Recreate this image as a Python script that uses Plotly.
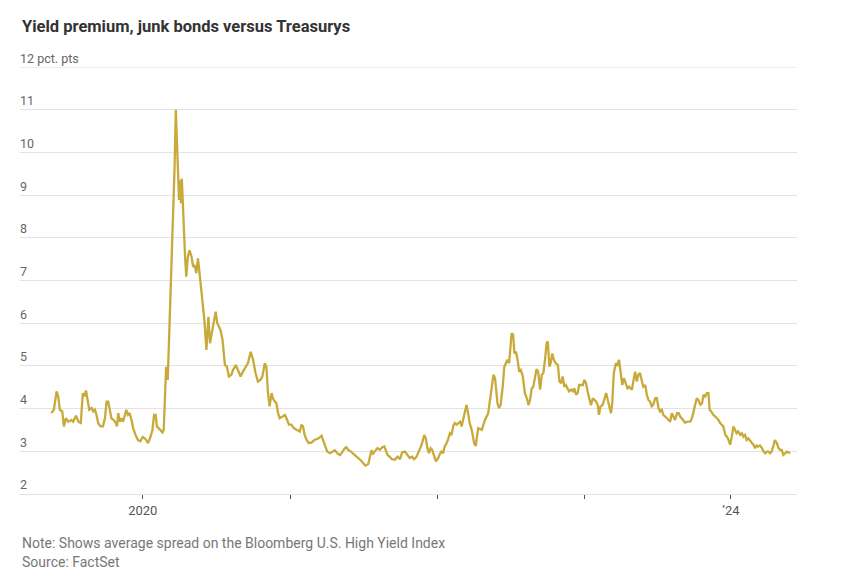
import plotly.graph_objects as go

dates = [
"2019-05-19","2019-05-25","2019-06-01","2019-06-05","2019-06-09","2019-06-15","2019-06-19","2019-06-24","2019-06-30",
"2019-07-08","2019-07-12","2019-07-19","2019-07-25","2019-07-31","2019-08-05","2019-08-09","2019-08-13","2019-08-17",
"2019-08-21","2019-08-27","2019-08-31","2019-09-04","2019-09-08","2019-09-12","2019-09-18","2019-09-24","2019-09-29",
"2019-10-03","2019-10-07","2019-10-11","2019-10-15","2019-10-21","2019-10-26","2019-10-29","2019-11-01","2019-11-05",
"2019-11-09","2019-11-13","2019-11-17","2019-11-21","2019-11-25","2019-11-29","2019-12-04","2019-12-08","2019-12-14",
"2019-12-20","2019-12-26","2020-01-01","2020-01-08","2020-01-14","2020-01-20","2020-01-25","2020-01-29","2020-02-02",
"2020-02-05","2020-02-09","2020-02-14","2020-02-19","2020-02-22",
"2020-02-24","2020-02-28","2020-03-03","2020-03-08","2020-03-10","2020-03-13","2020-03-16","2020-03-20","2020-03-23",
"2020-03-27","2020-03-31","2020-04-02","2020-04-05","2020-04-07","2020-04-10","2020-04-12","2020-04-15","2020-04-18",
"2020-04-22","2020-04-26","2020-05-01","2020-05-05","2020-05-09","2020-05-13","2020-05-17","2020-05-21","2020-05-25",
"2020-05-29","2020-06-02","2020-06-07","2020-06-09","2020-06-12","2020-06-16","2020-06-20","2020-06-25","2020-06-30",
"2020-07-04","2020-07-08","2020-07-12","2020-07-17","2020-07-20","2020-07-23","2020-07-28","2020-08-02","2020-08-08",
"2020-08-12","2020-08-19","2020-08-25","2020-08-31","2020-09-06","2020-09-13","2020-09-18","2020-09-25","2020-10-01",
"2020-10-07","2020-10-13","2020-10-19","2020-10-24","2020-10-30","2020-11-03","2020-11-07","2020-11-11","2020-11-16",
"2020-11-19","2020-11-24","2020-11-28","2020-12-02","2020-12-06","2020-12-13","2020-12-19","2020-12-23","2020-12-29",
"2021-01-04","2021-01-10","2021-01-17","2021-01-25",
"2021-01-29","2021-02-02","2021-02-06","2021-02-11","2021-02-16","2021-02-23","2021-03-02","2021-03-08","2021-03-13",
"2021-03-20","2021-03-24","2021-03-30","2021-04-03","2021-04-10","2021-04-16","2021-04-22","2021-04-29","2021-05-05",
"2021-05-10","2021-05-17","2021-05-21","2021-05-25","2021-06-01","2021-06-06","2021-06-12","2021-06-19","2021-06-26",
"2021-07-01","2021-07-07","2021-07-14","2021-07-18","2021-07-22","2021-07-26","2021-07-30","2021-08-06","2021-08-12",
"2021-08-18","2021-08-23","2021-08-26","2021-08-31","2021-09-06","2021-09-11","2021-09-18","2021-09-25","2021-10-01",
"2021-10-06","2021-10-13","2021-10-20","2021-10-25","2021-10-31","2021-11-05","2021-11-11","2021-11-17","2021-11-22",
"2021-11-26","2021-11-30","2021-12-04","2021-12-08","2021-12-12","2021-12-16","2021-12-20","2021-12-25","2021-12-29",
"2022-01-04","2022-01-08","2022-01-12","2022-01-16","2022-01-20","2022-01-25","2022-01-29","2022-02-02","2022-02-06",
"2022-02-10","2022-02-14","2022-02-19","2022-02-23","2022-02-27","2022-03-03","2022-03-07","2022-03-11","2022-03-15",
"2022-03-19","2022-03-23","2022-03-28","2022-04-03",
"2022-04-07","2022-04-13","2022-04-22","2022-04-30","2022-05-08","2022-05-12","2022-05-17","2022-05-21","2022-05-25",
"2022-05-27","2022-05-31","2022-06-04","2022-06-08","2022-06-13","2022-06-17","2022-06-21","2022-06-24","2022-06-29",
"2022-07-03","2022-07-05","2022-07-09","2022-07-12","2022-07-16","2022-07-20","2022-07-24","2022-07-28","2022-08-02",
"2022-08-07","2022-08-12","2022-08-16","2022-08-20","2022-08-24","2022-08-28","2022-09-01","2022-09-05","2022-09-09",
"2022-09-14","2022-09-18","2022-09-22","2022-09-26","2022-09-30","2022-10-03","2022-10-07","2022-10-10","2022-10-14",
"2022-10-18","2022-10-23","2022-10-28","2022-11-01","2022-11-05","2022-11-09","2022-11-13","2022-11-17","2022-11-21",
"2022-11-25","2022-11-30","2022-12-04","2022-12-08","2022-12-12","2022-12-16","2022-12-20","2022-12-25","2022-12-29",
"2023-01-02","2023-01-06","2023-01-10","2023-01-14","2023-01-18","2023-01-23","2023-01-27","2023-01-31","2023-02-04",
"2023-02-07","2023-02-11","2023-02-16","2023-02-20","2023-02-25","2023-03-01","2023-03-05","2023-03-09","2023-03-12",
"2023-03-16","2023-03-21","2023-03-25","2023-03-29","2023-04-02","2023-04-06","2023-04-10","2023-04-15","2023-04-19",
"2023-04-23","2023-04-30","2023-05-04","2023-05-08","2023-05-12","2023-05-16","2023-05-20","2023-05-24","2023-05-28",
"2023-06-02","2023-06-06","2023-06-10","2023-06-14","2023-06-18","2023-06-22","2023-06-27","2023-07-01","2023-07-05",
"2023-07-09","2023-07-13","2023-07-17","2023-07-26","2023-08-03","2023-08-07","2023-08-11","2023-08-15","2023-08-20",
"2023-08-24","2023-08-28","2023-09-03","2023-09-09","2023-09-15","2023-09-22","2023-09-26","2023-09-30","2023-10-04",
"2023-10-08","2023-10-12","2023-10-17","2023-10-21","2023-10-25","2023-10-29","2023-11-02","2023-11-06","2023-11-09",
"2023-11-13","2023-11-18","2023-11-23","2023-11-27","2023-12-01","2023-12-05","2023-12-09","2023-12-13","2023-12-18",
"2023-12-22","2023-12-26","2023-12-30",
"2024-01-03","2024-01-07","2024-01-11","2024-01-15","2024-01-19","2024-01-24","2024-01-28","2024-02-01","2024-02-05",
"2024-02-09","2024-02-13","2024-02-18","2024-02-22","2024-02-26","2024-03-01","2024-03-05","2024-03-09","2024-03-13",
"2024-03-18","2024-03-22","2024-03-26","2024-03-30","2024-04-03","2024-04-07","2024-04-11","2024-04-15","2024-04-19",
"2024-04-24","2024-04-28","2024-05-02","2024-05-06","2024-05-10","2024-05-15","2024-05-19","2024-05-23","2024-05-27",
]

spread = [
3.89,3.97,4.40,4.28,3.97,3.93,3.58,3.77,3.69,
3.73,3.69,3.83,3.69,3.66,4.36,4.28,4.42,4.20,
3.97,4.01,3.93,3.97,3.85,3.66,3.58,3.58,3.77,
4.16,4.16,3.97,3.77,3.73,3.66,3.58,3.89,3.69,
3.77,3.69,3.81,3.97,3.85,3.89,3.73,3.54,3.38,
3.26,3.23,3.33,3.28,3.19,3.33,3.50,3.85,3.85,
3.58,3.54,3.50,3.44,3.50,
4.20,4.98,4.67,6.15,6.39,7.25,8.26,9.67,11.00,
9.67,8.89,9.35,8.81,9.39,8.65,7.87,7.56,7.09,
7.56,7.71,7.56,7.32,7.36,7.17,7.52,7.17,6.78,
6.39,6.07,5.37,5.61,6.15,5.53,5.76,6.04,6.27,
6.00,5.92,5.84,5.61,5.22,5.02,4.98,4.75,4.79,
4.90,5.02,4.90,4.75,4.87,4.98,5.06,5.33,5.14,
4.83,4.63,4.67,4.75,5.06,4.98,4.36,4.05,4.36,
4.24,4.16,4.12,3.89,3.77,3.81,3.85,3.77,3.62,
3.62,3.54,3.50,3.46,
3.62,3.58,3.38,3.26,3.19,3.20,3.26,3.28,3.30,
3.36,3.26,3.11,2.99,2.95,2.99,3.02,2.94,2.91,
2.97,3.07,3.09,3.03,2.99,2.95,2.89,2.84,2.78,
2.72,2.66,2.70,2.84,3.02,2.94,2.99,3.07,3.03,
3.09,3.11,3.03,2.91,2.86,2.81,2.80,2.87,2.81,
2.97,2.99,2.89,2.84,2.87,2.81,2.87,2.99,3.11,
3.23,3.38,3.30,3.07,2.95,3.07,3.03,2.89,2.76,
2.84,2.94,2.99,2.95,3.11,3.19,3.30,3.42,3.38,
3.58,3.66,3.62,3.66,3.69,3.58,3.73,3.93,4.08,
3.89,3.66,3.50,3.19,
3.12,3.54,3.50,3.73,3.89,4.20,4.55,4.79,4.71,
4.51,4.12,4.01,4.09,4.51,4.98,5.06,5.14,5.06,
5.45,5.76,5.73,5.29,5.33,5.14,4.86,4.90,4.75,
4.36,4.24,4.08,4.20,4.47,4.51,4.75,4.92,4.87,
4.44,4.79,4.83,5.14,5.53,5.57,4.98,5.06,5.29,
5.14,5.06,5.02,4.63,4.59,4.75,4.51,4.55,4.47,
4.40,4.44,4.40,4.47,4.32,4.36,4.55,4.55,4.55,
4.67,4.59,4.40,4.20,4.08,4.24,4.20,4.16,4.08,
3.85,4.05,4.08,4.20,4.36,4.20,4.05,3.89,4.12,
4.83,5.06,5.02,5.14,4.83,4.55,4.71,4.59,4.47,
4.51,4.44,4.67,4.86,4.63,4.79,4.83,4.63,4.51,
4.55,4.32,4.20,4.16,4.05,4.09,4.24,4.24,4.01,
3.93,3.97,3.85,3.77,3.69,3.89,3.81,3.73,3.89,
3.89,3.81,3.73,3.67,3.69,3.69,3.77,3.93,4.05,
4.24,4.20,4.09,4.12,4.32,4.28,4.36,4.36,3.97,
3.93,3.85,3.81,3.77,3.73,3.66,3.62,3.58,3.38,
3.34,3.26,3.15,
3.34,3.58,3.50,3.42,3.46,3.38,3.42,3.34,3.38,
3.26,3.30,3.23,3.19,3.15,3.07,3.13,3.11,3.13,
3.07,2.99,2.95,2.99,2.99,2.95,2.99,3.11,3.26,
3.19,3.07,3.03,3.03,2.91,2.95,2.99,2.97,2.95,
]

y_tickvals = [2, 3, 4, 5, 6, 7, 8, 9, 10, 11, 12]
y_ticktext = ["2", "3", "4", "5", "6", "7", "8", "9", "10", "11", "12 pct. pts"]
x_tickvals = ["2020-01-01", "2021-01-01", "2022-01-01", "2023-01-01", "2024-01-01"]
x_ticktext = ["2020", "", "", "", "\u201924"]
y_top = 12

title_text = "Yield premium, junk bonds versus Treasurys"
note_text = "Note: Shows average spread on the Bloomberg U.S. High Yield Index"
source_text = "Source: FactSet"

FONT = "Roboto, Noto Sans, sans-serif"
GRID = "#e3e3e3"

# The page body keeps its default 8px margin, so the figure is 8px smaller
# on each axis and its margins are reduced by 8px on the left/top.
fig = go.Figure()
fig.add_trace(go.Scatter(
    x=dates, y=spread, mode="lines",
    line=dict(color="#c8aa3a", width=2.3),
    hoverinfo="x+y", showlegend=False,
))

# top gridline (plotly drops the gridline at the very edge of the range)
fig.add_shape(type="line", xref="paper", x0=0, x1=1, yref="y", y0=y_top, y1=y_top,
              line=dict(color=GRID, width=1), layer="below")

PLOT_H = 427.0

fig.update_layout(
    width=842, height=574,
    margin=dict(l=12, r=53, t=59, b=88),
    paper_bgcolor="white", plot_bgcolor="white",
    font=dict(family=FONT, color="#666666", size=13),
    xaxis=dict(
        type="date",
        range=["2019-03-02", "2024-06-13"],
        tickvals=x_tickvals, ticktext=x_ticktext,
        ticks="outside", ticklen=4, tickwidth=1, tickcolor="#555555",
        showgrid=False, zeroline=False,
        showline=True, linecolor=GRID, linewidth=1,
        tickfont=dict(size=13, color="#555555"),
        automargin=False, fixedrange=True,
    ),
    yaxis=dict(
        range=[1.995, 12.005],
        tickvals=y_tickvals, ticktext=y_ticktext,
        ticklabelposition="inside", ticklabelshift=-9, ticklabelstandoff=-3,
        ticklabeloverflow="allow",
        ticks="", showgrid=True, gridcolor=GRID, gridwidth=1,
        zeroline=False, showline=False,
        tickfont=dict(size=12.5, color="#666666"),
        automargin=False, fixedrange=True,
    ),
    annotations=[
        dict(text="<b>" + title_text + "</b>", xref="paper", yref="paper",
             x=0, y=(494 - 27) / PLOT_H, xanchor="left", yanchor="middle",
             showarrow=False, font=dict(size=16.5, color="#333333", family=FONT)),
        dict(text=note_text, xref="paper", yref="paper",
             x=0, y=(494 - 543) / PLOT_H, xanchor="left", yanchor="middle",
             showarrow=False, font=dict(size=14, color="#777777", family=FONT)),
        dict(text=source_text, xref="paper", yref="paper",
             x=0, y=(494 - 562) / PLOT_H, xanchor="left", yanchor="middle",
             showarrow=False, font=dict(size=14, color="#777777", family=FONT)),
    ],
)

fig.write_html("out.html")
